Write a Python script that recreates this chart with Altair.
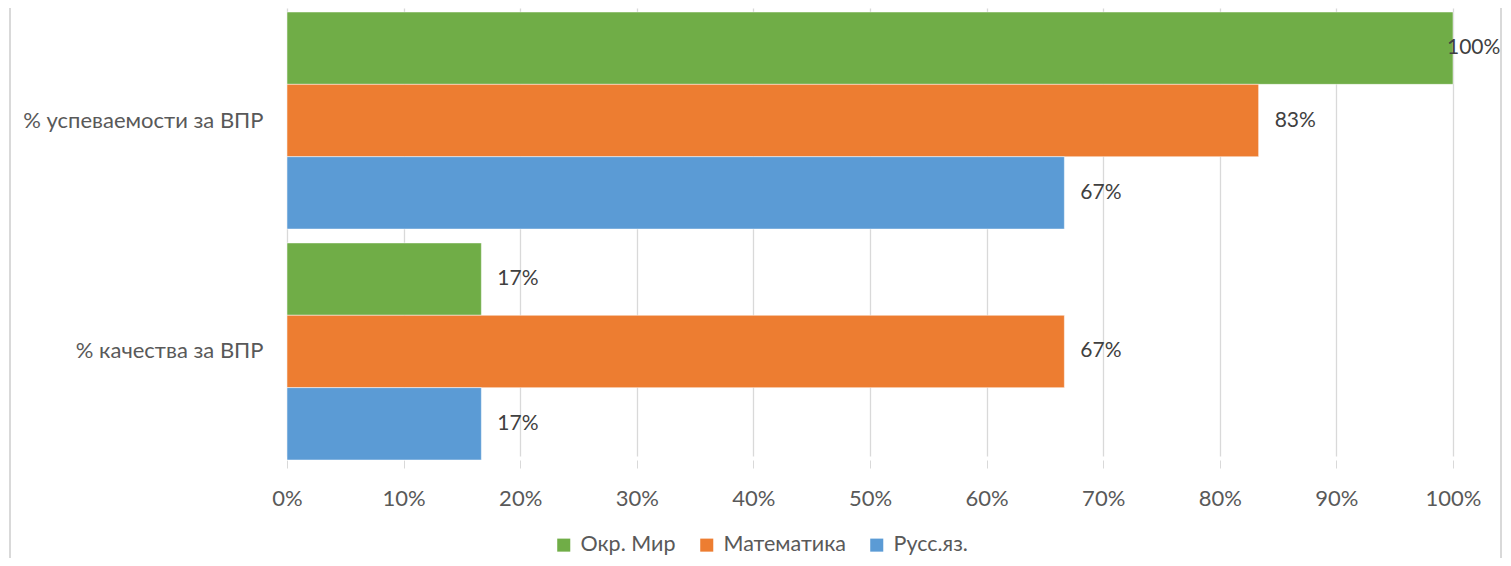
import altair as alt
import pandas as pd

categories = ["% успеваемости за ВПР", "% качества за ВПР"]
series = ["Окр. Мир", "Математика", "Русс.яз."]
colors = ["#70AD47", "#ED7D31", "#5B9BD5"]
values = {
    "Окр. Мир": [1.0, 0.1667],
    "Математика": [0.8333, 0.6667],
    "Русс.яз.": [0.6667, 0.1667],
}
x_ticks = [0, 0.1, 0.2, 0.3, 0.4, 0.5, 0.6, 0.7, 0.8, 0.9, 1.0]

rows = []
for s in series:
    for c, v in zip(categories, values[s]):
        rows.append({"category": c, "series": s, "value": v})
df = pd.DataFrame(rows)

FONT = "Lato"
FS = 22

base = alt.Chart(df).encode(
    y=alt.Y("category:N", sort=categories, title=None,
            scale=alt.Scale(paddingInner=0.06, paddingOuter=0, range=[4, 452]),
            axis=alt.Axis(domain=False, ticks=False, labelPadding=24,
                          labelFontSize=FS, labelColor="#595959", labelFont=FONT,
                          labelLimit=400)),
    yOffset=alt.YOffset("series:N", sort=series, scale=alt.Scale(paddingInner=0, paddingOuter=0)),
)

bars = base.mark_bar(stroke="white", strokeWidth=0.5).encode(
    x=alt.X("value:Q", title=None,
            scale=alt.Scale(domain=[0, 1], nice=False),
            axis=alt.Axis(values=x_ticks, format=".0%", domain=False,
                          ticks=True, tickSize=8, tickColor="#d9d9d9",
                          grid=True, gridColor="#d9d9d9", gridWidth=1.3,
                          labelFlush=False,
                          labelPadding=20, labelFontSize=FS, labelColor="#595959",
                          labelFont=FONT)),
    color=alt.Color("series:N", sort=series,
                    scale=alt.Scale(domain=series, range=colors),
                    legend=alt.Legend(title=None, orient="none", direction="horizontal",
                                      legendX=266, legendY=526,
                                      symbolType="square", symbolSize=170,
                                      symbolStrokeWidth=0,
                                      labelFontSize=21.5, labelColor="#595959",
                                      labelFont=FONT, columnPadding=20,
                                      labelOffset=6)),
)

labels = base.mark_text(align="left", baseline="middle", fontSize=21,
                        color="#404040", font=FONT,
                        dx=alt.expr("datum.value >= 0.99 ? -6 : 16")).encode(
    x=alt.X("value:Q"),
    text=alt.Text("value:Q", format=".0%"),
)

frame_l = alt.Chart(pd.DataFrame({"a": [0]})).mark_rule(color="#d9d9d9", strokeWidth=2).encode(
    x=alt.value(-277), y=alt.value(-10), y2=alt.value(570))
frame_r = alt.Chart(pd.DataFrame({"a": [0]})).mark_rule(color="#d9d9d9", strokeWidth=2).encode(
    x=alt.value(1214), y=alt.value(-10), y2=alt.value(570))

chart = alt.layer(frame_l, frame_r, bars, labels).properties(
    width=1166, height=452,
    autosize=alt.AutoSizeParams(type="none"),
    padding={"left": 279, "top": 0, "right": 50, "bottom": 98},
).configure_view(stroke=None)

chart.save("out.html", embed_options={"renderer": "svg", "actions": False})
